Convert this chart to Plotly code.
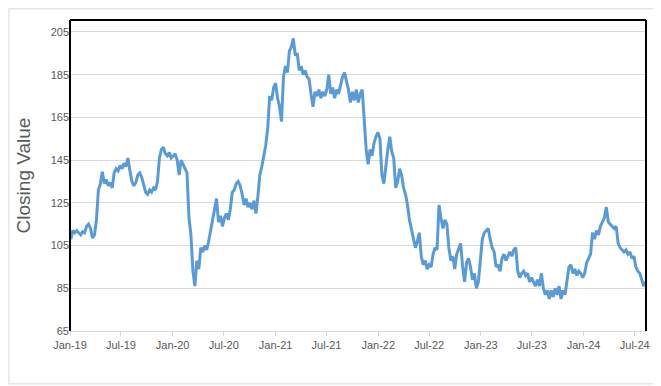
import pandas as pd
import plotly.graph_objects as go

start_date = "2019-01-04"

values_2019 = [108, 112, 111, 112, 111, 110, 111.5, 111, 114, 115, 113, 108.5, 110, 117, 131, 134,
               139.5, 134, 136, 133, 134.5, 132, 139, 141, 140, 142.5, 141, 143.5, 142, 146, 140, 135,
               133, 134.5, 138, 139, 137, 133, 130, 129, 131, 130, 132, 131, 135, 146, 150, 151,
               148, 147, 148.5, 146]
values_2020 = [147, 148, 145, 138, 145, 143, 141, 139, 118, 110, 93, 86, 98, 94, 104, 102,
               105, 103, 107, 112, 117, 121, 127, 116, 119, 114, 118, 120, 117, 122, 130, 131,
               134, 135, 133, 129, 124, 127, 123, 125, 122, 126, 120, 128, 138, 142, 147, 152,
               160, 175, 173, 179]
values_2021 = [181, 174, 170, 163, 184, 189, 186, 196, 198, 202, 194, 195, 187, 189, 185, 187,
               184, 183, 176, 170, 177, 175, 178, 174, 177, 175, 178, 185, 176, 179, 174, 178,
               176, 180, 184, 186, 182, 178, 172, 177, 173, 178, 172, 176, 178, 164, 150, 143,
               150, 147, 153, 156]
values_2022 = [158, 155, 138, 134, 143, 150, 156, 149, 146, 132, 135, 141, 138, 132, 129, 124,
               117, 113, 109, 104, 107, 111, 100, 96, 98, 94, 96, 95, 101, 104, 103, 124,
               118, 113, 117, 115, 104, 98, 100, 94, 101, 104, 106, 95, 88, 97, 99, 95,
               89, 92, 85, 88]
values_2023 = [100, 108, 111, 112, 113, 108, 104, 102, 95, 96, 93, 99, 101, 98, 100, 102,
               100, 103, 104, 93, 90, 92, 93, 91, 92, 88, 90, 88, 86, 89, 86, 92,
               85, 82, 84, 80, 84, 81, 85, 82, 86, 80, 84, 82, 90, 95, 96, 92,
               94, 91, 93, 92]
values_2024 = [90, 92, 97, 99, 101, 111, 108, 112, 110, 114, 116, 118, 123, 116, 115, 114,
               113, 114, 106, 104, 103, 102, 103, 101, 102, 99, 100, 95, 93, 92, 89, 86, 88]

closing = values_2019 + values_2020 + values_2021 + values_2022 + values_2023 + values_2024
dates = pd.date_range(start_date, periods=len(closing), freq="7D")

x_tick_dates = ["2019-01-01", "2019-07-01", "2020-01-01", "2020-07-01", "2021-01-01", "2021-07-01",
                "2022-01-01", "2022-07-01", "2023-01-01", "2023-07-01", "2024-01-01", "2024-07-01"]
x_tick_labels = ["Jan-19", "Jul-19", "Jan-20", "Jul-20", "Jan-21", "Jul-21",
                 "Jan-22", "Jul-22", "Jan-23", "Jul-23", "Jan-24", "Jul-24"]
y_ticks = [65, 85, 105, 125, 145, 165, 185, 205]

fig = go.Figure()
fig.add_trace(go.Scatter(x=dates, y=closing, mode="lines",
                         line=dict(color="#5B9BD5", width=3), showlegend=False))

font_family = "Liberation Sans, Arial, sans-serif"
fig.update_layout(
    width=653, height=378,
    margin=dict(l=62, r=15, t=12, b=55),
    paper_bgcolor="white", plot_bgcolor="white",
    font=dict(family=font_family, color="#595959", size=11),
    xaxis=dict(range=["2019-01-01", "2024-08-10"], tickvals=x_tick_dates, ticktext=x_tick_labels,
               showgrid=False, showline=True, linecolor="#D9D9D9", linewidth=1,
               ticks="outside", ticklen=4, tickcolor="#D9D9D9", zeroline=False,
               tickfont=dict(size=11, color="#595959")),
    yaxis=dict(range=[65, 210.6], tickvals=y_ticks, showgrid=True, gridcolor="#D9D9D9",
               gridwidth=1, zeroline=False, showline=False, ticks="",
               tickfont=dict(size=11, color="#595959"),
               title=dict(text="Closing Value", font=dict(size=19, color="#595959"), standoff=14)),
    shapes=[
        dict(type="line", xref="paper", yref="paper", x0=0, x1=0, y0=0, y1=1,
             line=dict(color="black", width=2)),
        dict(type="line", xref="paper", yref="paper", x0=1, x1=1, y0=0, y1=1,
             line=dict(color="black", width=2)),
        dict(type="line", xref="paper", yref="paper", x0=0, x1=1, y0=1, y1=1,
             line=dict(color="black", width=2)),
        dict(type="rect", xref="paper", yref="paper", x0=-0.106, x1=1.0226, y0=-0.170, y1=1.036,
             line=dict(color="#D9D9D9", width=1), layer="below"),
    ],
)

fig.write_html("out.html")
